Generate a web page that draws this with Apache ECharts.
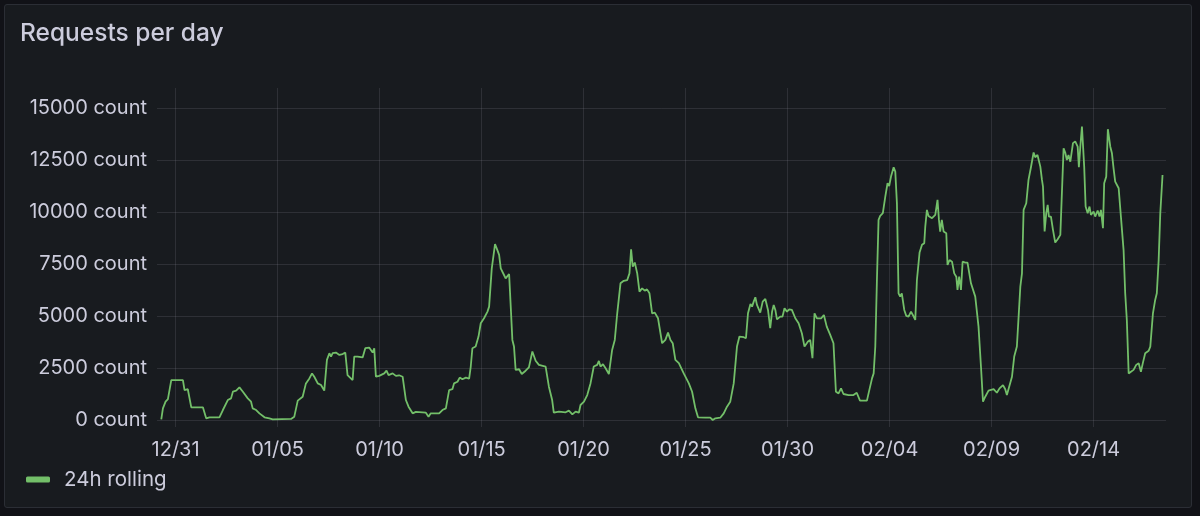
<!DOCTYPE html>
<html><head><meta charset="utf-8">
<script src="https://cdn.jsdelivr.net/npm/echarts@6/dist/echarts.min.js"></script>
<style>
html,body{margin:0;padding:0;background:#111217;width:1200px;height:516px;overflow:hidden}
#panel{position:absolute;left:4px;top:4px;width:1186px;height:502px;background:#181b1f;border:1px solid #2b2e35;border-radius:3px}
#chart{position:absolute;left:0;top:0;width:1200px;height:516px}
</style></head><body><div id="panel"></div><div id="chart"></div>
<script>
// x tick positions (days after 12/31 00:00) and their labels
const tickDays = [0, 5, 10, 15, 20, 25, 30, 35, 40, 45];
const tickLabels = ['12/31', '01/05', '01/10', '01/15', '01/20', '01/25', '01/30', '02/04', '02/09', '02/14'];
const yTicks = [0, 2500, 5000, 7500, 10000, 12500, 15000];
const seriesName = '24h rolling';

// sample times, days after 12/31 00:00
const dayOffsets = [
-0.70,-0.62,-0.49,-0.375,-0.29,-0.21,0.36,0.44,0.52,0.60,0.69,0.77,1.34,1.50,1.66,2.15,2.32,2.56,2.72,2.81,2.97,3.13,3.30,3.54,3.70,3.78,3.95,4.11,4.36,4.60,4.76,5.66,5.82,5.99,6.23,6.39,6.56,6.69,6.80,6.97,7.13,7.29,7.42,7.54,7.62,7.70,7.86,8.03,8.19,8.32,8.43,8.52,8.68,8.76,8.92,9.17,9.30,9.49,9.66,9.74,9.82,9.98,10.23,10.34,10.44,10.64,10.80,10.96,11.13,11.29,11.42,11.62,11.78,12.27,12.40,12.51,12.92,13.08,13.25,13.41,13.57,13.65,13.82,13.93,14.06,14.23,14.39,14.47,14.55,14.71,14.85,14.96,15.12,15.29,15.37,15.50,15.56,15.66,15.77,15.86,15.94,16.10,16.18,16.35,16.43,16.51,16.59,16.67,16.84,16.97,17.16,17.32,17.41,17.49,17.65,17.81,
18.14,18.30,18.46,18.54,18.79,19.12,19.28,19.45,19.61,19.77,19.85,20.02,20.18,20.34,20.50,20.67,20.75,20.83,20.95,21.08,21.24,21.32,21.40,21.53,21.65,21.81,21.97,22.14,22.25,22.33,22.41,22.51,22.63,22.74,22.87,23.00,23.11,23.23,23.36,23.49,23.65,23.85,24.01,24.14,24.26,24.37,24.50,24.67,24.91,25.16,25.32,25.48,25.61,25.97,26.21,26.33,26.46,26.70,26.87,27.03,27.19,27.36,27.52,27.64,27.85,27.96,28.06,28.18,28.26,28.34,28.42,28.50,28.66,28.78,28.91,29.04,29.15,29.24,29.32,29.40,29.48,29.64,29.75,29.85,29.97,30.08,30.21,30.38,30.54,30.70,30.83,31.00,31.11,31.22,31.32,31.44,31.65,31.78,31.92,32.09,32.25,32.37,32.50,32.62,32.74,32.99,33.23,33.39,33.55,
33.73,33.89,33.97,34.14,34.22,34.30,34.38,34.46,34.54,34.67,34.79,34.90,34.98,35.07,35.20,35.28,35.36,35.44,35.52,35.60,35.72,35.82,35.93,36.05,36.14,36.26,36.34,36.47,36.59,36.70,36.75,36.83,36.91,37.08,37.24,37.35,37.42,37.48,37.56,37.65,37.78,37.84,37.94,38.06,38.17,38.27,38.33,38.41,38.50,38.58,38.71,38.82,38.99,39.20,39.36,39.48,39.58,39.69,39.85,40.10,40.26,40.39,40.56,40.67,40.75,40.83,41.00,41.11,41.24,41.41,41.49,41.57,41.70,41.81,41.93,42.06,42.14,42.25,42.39,42.47,42.52,42.60,42.68,42.75,42.81,42.91,43.01,43.12,43.24,43.37,43.45,43.53,43.61,43.69,43.77,43.86,43.99,44.10,44.22,44.28,44.35,44.43,44.48,44.54,44.61,44.71,44.80,44.87,45.00,45.08,45.20,45.29,45.36,45.46,45.52,45.62,45.70,45.82,45.90,45.98,46.06,46.23,46.34,46.47,46.55,46.63,46.72,46.83,46.96,47.09,47.21,47.32,47.42,47.53,47.70,47.78,47.91,48.02,48.10,48.19,48.27,48.38
];
// 24h rolling request count at each sample
const counts = [
30,560,880,1000,1040,1920,1920,1440,1360,1480,1440,610,610,80,130,130,480,960,1040,1360,1410,1570,1360,1040,880,560,480,320,130,80,30,50,160,930,1120,1760,2000,2240,2080,1760,1680,1410,2890,3210,3050,3210,3240,3130,3170,3240,2160,2080,1920,3050,3050,3010,3450,3480,3240,3450,2080,2120,2240,2370,2160,2240,2120,2150,2080,960,640,320,390,350,160,320,320,480,560,1440,1480,1760,1840,2040,1960,2040,1990,2570,3450,3530,4010,4650,4890,5210,5450,7290,7370,8460,8180,7940,7290,6970,6810,7020,5450,3850,3530,2410,2440,2210,2370,2530,2570,3290,2850,2650,
2570,1600,960,350,400,370,450,270,400,350,720,880,1200,1760,2570,2650,2840,2570,2680,2490,2210,2240,3370,3850,5130,6570,6690,6730,7050,8210,7370,7570,7050,6170,6330,6220,6280,6090,5130,5160,4890,3690,3850,4200,3850,3690,2890,2730,2240,1760,1360,560,130,110,110,0,80,110,320,640,880,1760,3530,4010,3980,3930,5130,5580,5450,5690,5900,5530,5160,5690,5820,5290,4410,5210,5530,5290,4840,4970,4970,5370,5210,5320,5290,4890,4650,4170,3530,3770,3850,2970,5130,4890,4890,5050,4490,4090,3690,1360,1280,1520,1250,1200,1200,1310,930,
930,930,1280,2000,2240,3530,6730,9620,9810,9940,10740,11380,11250,11700,12150,11940,10420,6090,5930,6090,5290,5000,4970,5210,5050,4810,6730,8050,8420,8500,9300,10100,9810,9700,9860,10580,9620,9060,9620,9060,8980,7450,7690,7610,7050,6890,6250,6890,6250,7610,7570,7570,6570,5930,4490,2570,880,1120,1410,1480,1310,1520,1680,1480,1200,1150,2080,3050,3530,6410,7050,10100,10420,11540,12150,12860,12630,12740,12180,11540,11220,9060,9940,10340,9780,9780,9140,8530,8690,8900,8980,13060,12860,12500,12740,12420,13310,13390,13140,12150,13140,14110,14110,12180,10260,9940,10260,9860,10020,9780,10070,9780,10100,9220,11380,11700,13980,13140,12820,12100,11460,11140,9780,8180,6090,4810,2240,2320,2410,2650,2730,2320,2760,3210,3330,3530,5130,5770,6090,7690,9940,11780
];

const textColor = '#ccccdc';
const gridColor = 'rgba(204,204,220,0.12)';
const font = 'Inter, "Noto Sans", sans-serif';

const chart = echarts.init(document.getElementById('chart'), null, {renderer: 'canvas'});
chart.setOption({
  backgroundColor: 'transparent',
  animation: false,
  title: {
    text: 'Requests per day', left: 20, top: 21, padding: 0,
    textStyle: {color: textColor, fontSize: 24.5, fontWeight: 500, fontFamily: font}
  },
  legend: {
    data: [seriesName], left: 26, top: 469, padding: 0,
    icon: 'roundRect', itemWidth: 24, itemHeight: 6, itemGap: 10,
    textStyle: {color: textColor, fontSize: 20.5, fontFamily: font, padding: [0, 0, 0, 9]}
  },
  grid: {left: 157, right: 34, top: 88, bottom: 96},
  xAxis: {
    type: 'value', min: -0.91, max: 48.55,
    axisLine: {show: false},
    axisTick: {show: true, length: 7, customValues: tickDays, lineStyle: {color: gridColor}},
    splitLine: {show: true, lineStyle: {color: gridColor}},
    axisLabel: {
      customValues: tickDays, color: textColor, fontSize: 20, fontFamily: font, margin: 20,
      formatter: v => tickLabels[tickDays.indexOf(v)] || ''
    }
  },
  yAxis: {
    type: 'value', min: 0, max: 15960,
    axisLine: {show: false}, axisTick: {show: false, customValues: yTicks},
    splitLine: {show: true, lineStyle: {color: gridColor}},
    axisLabel: {
      customValues: yTicks, color: textColor, fontSize: 20, fontFamily: font, margin: 10,
      formatter: v => v + ' count'
    }
  },
  series: [{
    name: seriesName, type: 'line', showSymbol: false,
    data: dayOffsets.map((d, i) => [d, counts[i]]),
    lineStyle: {color: '#73bf69', width: 1.8}, itemStyle: {color: '#73bf69'}
  }]
});
</script></body></html>
